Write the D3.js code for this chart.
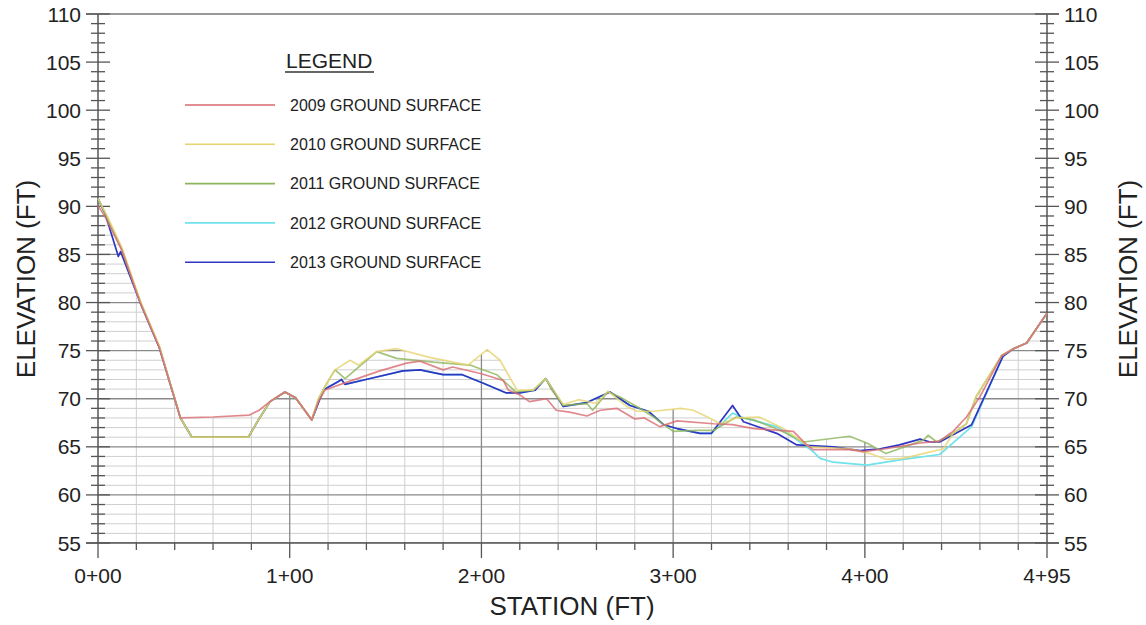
<!DOCTYPE html>
<html>
<head>
<meta charset="utf-8">
<script src="https://cdn.jsdelivr.net/npm/d3@7"></script>
<style>
  body { margin: 0; background: #fff; }
  text { font-family: "Liberation Sans", Arial, sans-serif; fill: #222; }
</style>
</head>
<body>
<svg id="chart" width="1146" height="625"></svg>
<script>
// ground surface profiles, station (ft) / elevation (ft)
var sta2009 = [0, 4, 12.5, 22, 32, 43, 60, 79, 84, 89.7, 97.5, 103, 106, 111.5, 115, 118.4, 128, 147, 161, 168, 180, 185, 200, 208, 211.4, 214, 220, 225, 234, 239, 246, 255, 262, 270.6, 280, 285, 293, 302, 321, 331, 342, 362.7, 369.7, 373, 392, 399, 411, 429, 439, 446, 453, 460, 471.4, 477.5, 484.4, 495];
var elev2009 = [90.1, 88.8, 85.4, 80.0, 75.3, 68.0, 68.1, 68.3, 68.8, 69.7, 70.7, 70.1, 69.3, 67.8, 69.7, 70.9, 71.6, 72.9, 73.7, 73.9, 73.0, 73.3, 72.6, 72.1, 71.9, 70.9, 70.4, 69.7, 70.0, 68.8, 68.6, 68.2, 68.8, 69.0, 67.9, 68.0, 67.1, 67.7, 67.4, 67.3, 66.9, 66.6, 65.2, 64.7, 64.7, 64.5, 64.8, 65.4, 65.6, 66.6, 68.1, 70.2, 74.5, 75.2, 75.8, 78.9];

var sta2010 = [0, 5, 12.3, 22, 32, 43, 49, 78.4, 84, 89.7, 97.5, 103, 106, 111.5, 115, 119.3, 123.6, 131.5, 135.8, 145.4, 155.8, 173, 193, 203, 209.7, 218.6, 227, 233.5, 242.7, 250.6, 260, 266, 275.8, 281, 289.8, 304, 310.5, 319, 324.5, 333, 345, 357.5, 371, 392, 402.7, 411, 420, 441, 446, 453, 458, 471.4, 477.5, 484.4, 495];
var elev2010 = [90.8, 88.9, 85.8, 80.2, 75.5, 68.0, 66.0, 66.0, 67.9, 69.7, 70.7, 70.1, 69.3, 67.8, 70.0, 71.6, 73.0, 74.0, 73.5, 74.9, 75.2, 74.3, 73.5, 75.1, 74.0, 70.9, 70.9, 72.1, 69.4, 69.9, 69.5, 70.8, 69.2, 68.7, 68.7, 69.0, 68.8, 68.0, 67.4, 68.0, 68.1, 66.9, 65.0, 64.8, 64.3, 63.7, 63.8, 64.8, 66.4, 67.4, 70.2, 74.5, 75.2, 75.8, 78.9];

var sta2011 = [0, 5, 12.3, 22, 32, 43, 49, 78.4, 84, 89.7, 97.5, 103, 106, 111.5, 115, 119.3, 123.6, 128.9, 145.4, 155.8, 175, 194, 208, 218, 227, 233.5, 236.7, 242.7, 255, 258, 266, 272, 281, 289.8, 300, 312, 321, 333, 342, 356, 368, 392, 401, 411, 430.5, 433, 437.5, 446, 453, 458, 471.4, 477.5, 484.4, 495];
var elev2011 = [90.8, 88.7, 85.6, 80.1, 75.4, 68.0, 66.0, 66.0, 67.9, 69.7, 70.7, 70.1, 69.3, 67.8, 70.0, 71.6, 73.0, 72.1, 74.9, 74.2, 73.8, 73.5, 72.5, 70.7, 70.9, 72.1, 70.9, 69.3, 69.5, 68.8, 70.7, 70.2, 69.2, 68.1, 66.6, 66.7, 66.7, 68.1, 67.8, 66.7, 65.5, 66.1, 65.4, 64.3, 65.7, 66.2, 65.5, 66.4, 67.4, 70.2, 74.5, 75.2, 75.8, 78.9];

var sta2012 = [0, 12.3, 22, 32, 43, 49, 78.4, 84, 89.7, 97.5, 103, 106, 111.5, 117.5, 125.4, 127, 128.8, 142, 159, 168, 180, 190, 201, 213, 220, 228, 233.5, 242.7, 255, 267, 277.5, 287, 295, 302, 314, 320, 331, 337, 354, 362.7, 373, 376.6, 383.6, 401, 420, 439, 446, 455.7, 472, 477.5, 484.4, 495];
var elev2012 = [90.8, 85.6, 80.0, 75.3, 68.0, 66.0, 66.0, 67.9, 69.7, 70.7, 70.1, 69.3, 67.8, 70.9, 71.8, 72.0, 71.5, 72.1, 72.9, 73.0, 72.5, 72.5, 71.6, 70.6, 70.6, 70.9, 72.1, 69.2, 69.6, 70.7, 69.3, 68.7, 67.3, 66.9, 66.4, 66.4, 68.5, 68.0, 67.1, 66.0, 64.5, 63.8, 63.4, 63.1, 63.7, 64.2, 65.4, 67.1, 74.4, 75.2, 75.8, 78.9];

var sta2013 = [0, 3.6, 10.6, 11.8, 22, 32, 43, 49, 78.4, 84, 89.7, 97.5, 103, 106, 111.5, 117.5, 125.4, 127, 128.8, 142, 159, 168, 180, 190, 201, 213, 220, 228, 233.5, 242.7, 255, 267, 277.5, 287, 295, 302, 314, 320, 331, 336.7, 354, 364.5, 383.6, 397.5, 408, 418, 428.8, 434, 439, 455.7, 472, 477.5, 484.4, 495];
var elev2013 = [90.8, 89.3, 84.8, 85.3, 80.0, 75.3, 68.0, 66.0, 66.0, 67.9, 69.7, 70.7, 70.1, 69.3, 67.8, 70.9, 71.8, 72.0, 71.5, 72.1, 72.9, 73.0, 72.5, 72.5, 71.6, 70.6, 70.6, 70.9, 72.1, 69.2, 69.6, 70.7, 69.3, 68.7, 67.3, 66.9, 66.4, 66.4, 69.3, 67.6, 66.4, 65.2, 65.0, 64.6, 64.8, 65.2, 65.8, 65.5, 65.5, 67.3, 74.4, 75.2, 75.8, 78.9];

var seriesNames = ["2009 GROUND SURFACE", "2010 GROUND SURFACE", "2011 GROUND SURFACE", "2012 GROUND SURFACE", "2013 GROUND SURFACE"];
var seriesColors = ["#d96a70", "#e6d36e", "#8db45a", "#6fe2ea", "#2f37c2"];

var xTickValues = [0, 100, 200, 300, 400, 495];
var xTickLabels = ["0+00", "1+00", "2+00", "3+00", "4+00", "4+95"];
var yTickValues = [55, 60, 65, 70, 75, 80, 85, 90, 95, 100, 105, 110];

var stations = [sta2009, sta2010, sta2011, sta2012, sta2013];
var elevations = [elev2009, elev2010, elev2011, elev2012, elev2013];
var series = stations.map(function(s, i) {
  return s.map(function(d, j) { return [d, elevations[i][j]]; });
});

var svg = d3.select("#chart");
var plotLeft = 98, plotRight = 1047, plotTop = 14, plotBottom = 543;

var x = d3.scaleLinear().domain([0, 495]).range([plotLeft, plotRight]);
var y = d3.scaleLinear().domain([55, 110]).range([plotBottom, plotTop]);

var line = d3.line().x(function(d) { return x(d[0]); }).y(function(d) { return y(d[1]); });
var area = d3.area().x(function(d) { return x(d[0]); }).y0(y(55)).y1(function(d) { return y(d[1]); });

// grid is only drawn below the ground surface
var clip = svg.append("defs").append("clipPath").attr("id", "ground");
clip.selectAll("path").data(series).enter().append("path").attr("d", area);

var grid = svg.append("g").attr("clip-path", "url(#ground)");

var minorY = d3.range(55, 111, 1).filter(function(v) { return v % 5 != 0; });
grid.selectAll(".hminor").data(minorY).enter().append("line")
    .attr("x1", plotLeft).attr("x2", plotRight)
    .attr("y1", function(d) { return y(d); }).attr("y2", function(d) { return y(d); })
    .style("stroke", "#cfcfcf").style("stroke-width", 1);

var minorX = d3.range(20, 495, 20).filter(function(v) { return v % 100 != 0; });
grid.selectAll(".vminor").data(minorX).enter().append("line")
    .attr("x1", function(d) { return x(d); }).attr("x2", function(d) { return x(d); })
    .attr("y1", plotTop).attr("y2", plotBottom)
    .style("stroke", "#cfcfcf").style("stroke-width", 1);

grid.selectAll(".hmajor").data(yTickValues).enter().append("line")
    .attr("x1", plotLeft).attr("x2", plotRight)
    .attr("y1", function(d) { return y(d); }).attr("y2", function(d) { return y(d); })
    .style("stroke", "#8a8a8a").style("stroke-width", 1.3);

grid.selectAll(".vmajor").data([100, 200, 300, 400]).enter().append("line")
    .attr("x1", function(d) { return x(d); }).attr("x2", function(d) { return x(d); })
    .attr("y1", plotTop).attr("y2", plotBottom)
    .style("stroke", "#8a8a8a").style("stroke-width", 1.3);

// frame: top and bottom lines
svg.append("line").attr("x1", plotLeft - 12).attr("x2", plotRight + 12).attr("y1", y(110)).attr("y2", y(110))
    .style("stroke", "#777").style("stroke-width", 1.5);
svg.append("line").attr("x1", plotLeft - 12).attr("x2", plotRight + 12).attr("y1", y(55)).attr("y2", y(55))
    .style("stroke", "#555").style("stroke-width", 1.5);

// elevation axes on both sides, ticks crossing the axis line
function elevAxis(x0, labelSide) {
  var g = svg.append("g");
  g.append("line").attr("x1", x0).attr("x2", x0).attr("y1", plotTop).attr("y2", plotBottom)
      .style("stroke", "#555").style("stroke-width", 1.5);
  g.selectAll(".t").data(d3.range(55, 111, 1)).enter().append("line")
      .attr("x1", function(d) { return x0 - (d % 5 == 0 ? 12 : 7); })
      .attr("x2", function(d) { return x0 + (d % 5 == 0 ? 12 : 7); })
      .attr("y1", function(d) { return y(d); }).attr("y2", function(d) { return y(d); })
      .style("stroke", "#555").style("stroke-width", 1.3);
  g.selectAll(".lbl").data(yTickValues).enter().append("text")
      .attr("x", labelSide < 0 ? x0 - 17 : x0 + 17)
      .attr("y", function(d) { return y(d); })
      .attr("dy", "0.36em")
      .attr("text-anchor", labelSide < 0 ? "end" : "start")
      .style("font-size", "21px")
      .text(function(d) { return d; });
}
elevAxis(plotLeft, -1);
elevAxis(plotRight, 1);

// station ticks
var xTicks = d3.range(0, 495, 20).concat([495]);
svg.selectAll(".xt").data(xTicks).enter().append("line")
    .attr("x1", function(d) { return x(d); }).attr("x2", function(d) { return x(d); })
    .attr("y1", plotBottom)
    .attr("y2", function(d) { return plotBottom + (d % 100 == 0 || d == 495 ? 15 : 7); })
    .style("stroke", "#555").style("stroke-width", 1.3);

svg.selectAll(".xl").data(xTickValues).enter().append("text")
    .attr("x", function(d) { return x(d); })
    .attr("y", 583)
    .attr("text-anchor", "middle")
    .style("font-size", "21px")
    .text(function(d, i) { return xTickLabels[i]; });

// axis titles
svg.append("text").attr("x", 572).attr("y", 615).attr("text-anchor", "middle")
    .style("font-size", "26px").text("STATION (FT)");
svg.append("text").attr("transform", "translate(35,279) rotate(-90)").attr("text-anchor", "middle")
    .style("font-size", "26px").text("ELEVATION (FT)");
svg.append("text").attr("transform", "translate(1137,279) rotate(-90)").attr("text-anchor", "middle")
    .style("font-size", "26px").text("ELEVATION (FT)");

// profiles: 2012 under 2013, older surveys on top and semi-transparent so shared stretches blend
var order = [3, 4, 2, 1, 0];
svg.append("g").selectAll("path").data(order).enter().append("path")
    .attr("d", function(i) { return line(series[i]); })
    .style("fill", "none")
    .style("stroke", function(i) { return seriesColors[i]; })
    .style("stroke-opacity", function(i) { return i >= 3 ? 1 : 0.8; })
    .style("stroke-width", 1.7)
    .style("stroke-linejoin", "round");

// legend
var legend = svg.append("g");
legend.append("text").attr("x", 286).attr("y", 68).style("font-size", "21px").text("LEGEND");
legend.append("line").attr("x1", 285).attr("x2", 374).attr("y1", 72).attr("y2", 72)
    .style("stroke", "#333").style("stroke-width", 1.5);

var items = legend.selectAll(".item").data(seriesNames).enter().append("g")
    .attr("transform", function(d, i) { return "translate(0," + (105 + i * 39.3) + ")"; });
items.append("line").attr("x1", 185).attr("x2", 275).attr("y1", 0).attr("y2", 0)
    .style("stroke", function(d, i) { return seriesColors[i]; })
    .style("stroke-width", 1.6);
items.append("text").attr("x", 290).attr("y", 0).attr("dy", "0.36em")
    .style("font-size", "16px")
    .text(function(d) { return d; });
</script>
</body>
</html>
